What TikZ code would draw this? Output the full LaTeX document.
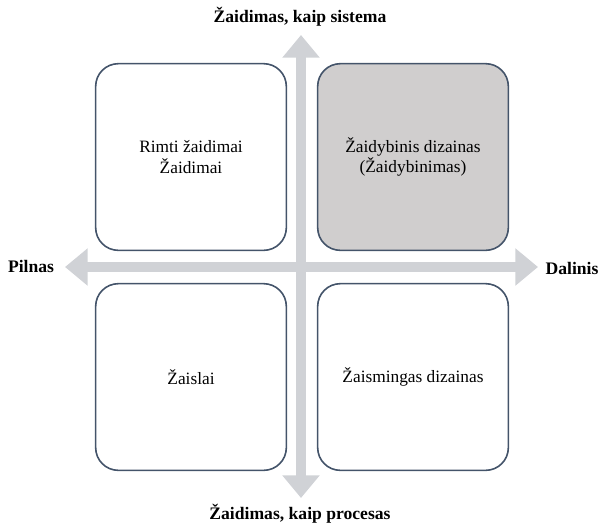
\documentclass[tikz,border=0pt]{standalone}
\usepackage{fontspec}
\setmainfont{Liberation Serif}
\usetikzlibrary{arrows.meta}
\definecolor{axisgrey}{HTML}{D0D2D6}
\definecolor{boxedge}{HTML}{44546A}
\definecolor{boxfill}{HTML}{D0CECE}
\tikzset{
  quadbox/.style={draw=boxedge, line width=1.2pt, fill=white, rounded corners=17pt,
    minimum width=143pt, minimum height=140pt, align=center, inner sep=0pt,
    font=\fontsize{13pt}{15.5pt}\selectfont},
  shaded/.style={fill=boxfill},
  axislabel/.style={font=\fontsize{13.2pt}{15pt}\selectfont\bfseries, inner sep=0pt},
  axisarrow/.style={draw=axisgrey, line width=7.8pt,
    {Triangle[width=27pt,length=17pt]}-{Triangle[width=27pt,length=17pt]}},
}
\begin{document}
\begin{tikzpicture}[x=0.75pt, y=-0.75pt]
  \useasboundingbox (0,0) rectangle (599,526);
  % axis end points
  \coordinate (top) at (301,35);
  \coordinate (bottom) at (301,498);
  \coordinate (left) at (65,267);
  \coordinate (right) at (538,267);
  % the two axes
  \draw[axisarrow] (bottom) -- (top);
  \draw[axisarrow] (left) -- (right);
  % quadrants
  \node[quadbox] (tl) at (191,157) {Rimti žaidimai\\Žaidimai};
  \node[quadbox, shaded] (tr) at (413,157) {Žaidybinis dizainas\\(Žaidybinimas)};
  \node[quadbox] (bl) at (191,377) {Žaislai};
  \node[quadbox] (br) at (413,377) {Žaismingas dizainas};
  % axis labels
  \node[axislabel] (ltop) at (300,17) {Žaidimas, kaip sistema};
  \node[axislabel] (lbottom) at (300,514) {Žaidimas, kaip procesas};
  \node[axislabel] (lleft) at (31,266) {Pilnas};
  \node[axislabel] (lright) at (572,268) {Dalinis};
\end{tikzpicture}
\end{document}
